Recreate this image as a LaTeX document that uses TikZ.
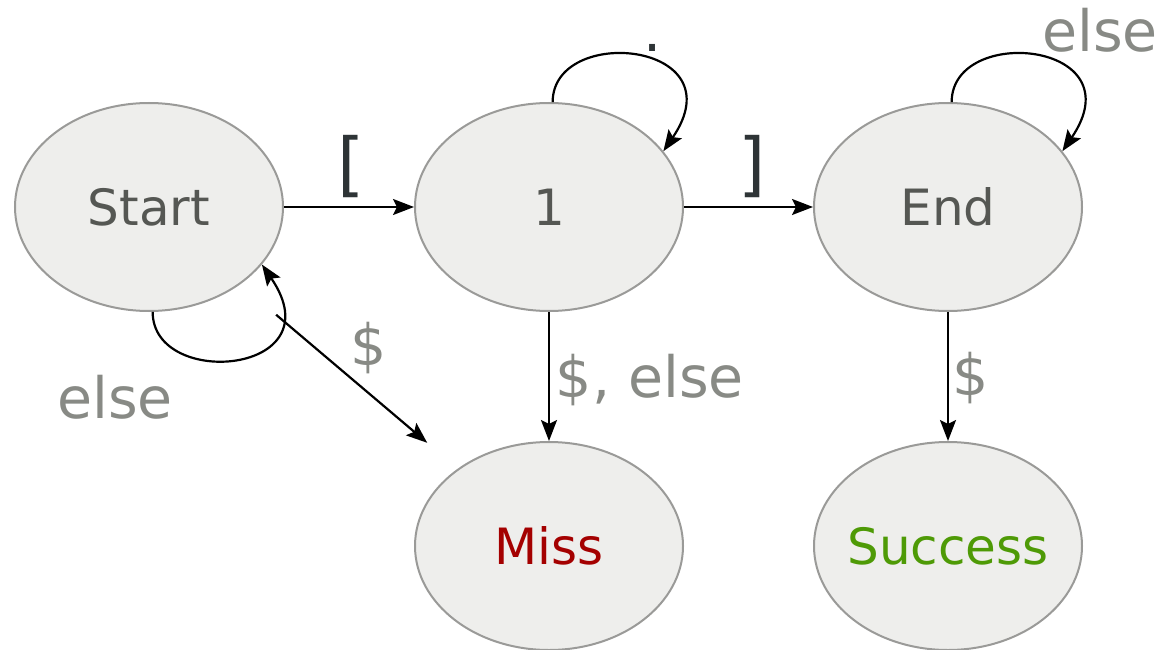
\documentclass[tikz,border=0pt]{standalone}
\usepackage{fontspec}
\setmainfont{DejaVu Sans}
\usetikzlibrary{arrows.meta,shapes.geometric}
\definecolor{nodefill}{HTML}{EEEEEC}
\definecolor{nodeborder}{HTML}{9A9A98}
\definecolor{nodetext}{HTML}{555753}
\definecolor{labeltext}{HTML}{888A85}
\definecolor{bracket}{HTML}{2E3436}
\definecolor{missred}{HTML}{A40000}
\definecolor{successgreen}{HTML}{4E9A06}
\tikzset{
  state/.style={ellipse, draw=nodeborder, line width=2pt, fill=nodefill,
    minimum width=268pt, minimum height=208pt, inner sep=0pt,
    text=nodetext, font=\fontsize{50}{60}\selectfont},
  arr/.style={line width=2.2pt, -{Stealth[length=21pt,width=16pt,inset=4pt]}},
  lbl/.style={anchor=base, text=labeltext, inner sep=0pt, font=\fontsize{57}{68}\selectfont},
  brk/.style={anchor=base, text=bracket, inner sep=0pt, font=\fontsize{70}{80}\selectfont},
}
\begin{document}
\begin{tikzpicture}[x=1pt,y=-1pt]
\useasboundingbox (0,0) rectangle (1164,650);
\node[state] (start) at (149,207) {\makebox[0pt]{Start}};
\node[state] (one) at (549,207) {\makebox[0pt]{1}};
\node[state] (end) at (948,207) {\makebox[0pt]{End}};
\node[state, text=missred] (miss) at (549,546) {\makebox[0pt]{Miss}};
\node[state, text=successgreen] (success) at (948,546) {\makebox[0pt]{Success}};

\draw[arr] (start) -- (one);
\node[brk] (lb) at (351,188) {[};
\draw[arr] (one) -- (end);
\node[brk] (rb) at (752,188) {]};

\draw[arr] (one.88) .. controls +(0,-78) and +(75,-110) .. (one.26);
\node[brk, font=\fontsize{57}{68}\selectfont] (dot) at (653,52) {.};

\draw[arr] (end.88) .. controls +(0,-78) and +(75,-110) .. (end.26);
\node[lbl] (elseE) at (1100,52) {else};

\draw[arr] (start.-88) .. controls +(0,78) and +(75,110) .. (start.-27);
\node[lbl] (elseS) at (115,418) {else};

\draw[arr, shorten <=47pt, shorten >=40pt] (start) -- (miss);
\node[lbl] (dollarS) at (369,365) {\$};

\draw[arr] (one) -- (miss);
\node[lbl] (dollarElse) at (650,397) {\$, else};

\draw[arr] (end) -- (success);
\node[lbl] (dollarE) at (971,395) {\$};
\end{tikzpicture}
\end{document}
